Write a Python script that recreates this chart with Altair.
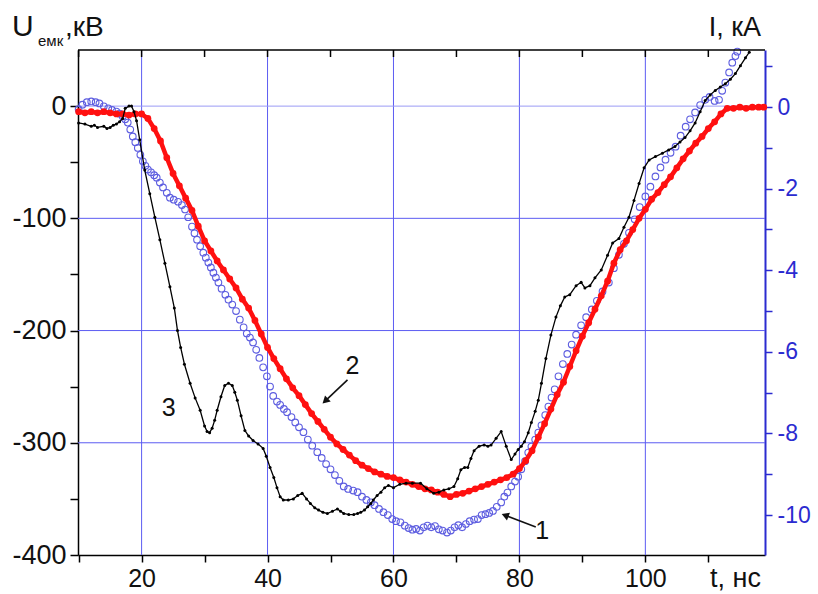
import altair as alt
import pandas as pd

# ---------------- data ----------------
# Curve 2 (red, U in kV)
red_t = [10, 11, 12, 13, 14, 15, 16, 17, 18, 19, 20, 21, 22, 23, 24, 25, 26, 27, 28, 29,
         30, 31, 32, 33, 34, 35, 36, 37, 38, 39, 40, 41, 42, 43, 44, 45, 46, 47, 48, 49,
         50, 51, 52, 53, 54, 55, 56, 57, 58, 59, 60, 61, 62, 63, 64, 65, 66, 67, 68, 69,
         70, 71, 72, 73, 74, 75, 76, 77, 78, 79, 80, 81, 82, 83, 84, 85, 86, 87, 88, 89,
         90, 91, 92, 93, 94, 95, 96, 97, 98, 99, 100, 101, 102, 103, 104, 105, 106, 107, 108, 109,
         110, 111, 112, 113, 114, 115, 116, 117, 118, 118.8]
red_u = [-5, -6, -5, -6, -5, -6, -7, -7, -8, -7, -7, -11, -20, -31, -46, -60, -71, -82, -93, -107,
         -120, -129, -138, -146, -154, -162, -172, -180, -191, -203, -215, -225, -234, -243, -251, -258, -266, -274, -281, -288,
         -295, -301, -306, -311, -316, -320, -323, -326, -328, -330, -331, -333, -335, -337, -339, -341, -342, -344, -346, -348,
         -346, -345, -343, -341, -339, -337, -335, -333, -331, -328, -323, -316, -307, -295, -283, -270, -257, -246, -232, -218,
         -205, -193, -181, -169, -156, -140, -128, -120, -110, -100, -92, -83, -77, -70, -63, -55, -47, -40, -33, -27,
         -20, -14, -7, -2, -2, -1, -2, -1, -1, -1]

# Curve 3 (black, kV)
black_t = [10, 11, 12, 12.5, 13, 14, 14.5, 15, 15.5, 16, 16.5, 17, 17.4, 18, 18.4, 18.8, 19.2, 19.7, 20.5, 21.3,
           22.1, 22.9, 23.7, 24.5, 25.2, 25.7, 26.2, 26.8, 27.7, 28.5, 29.3, 30, 30.4, 30.8, 31.2, 31.6, 32, 32.6, 33.2, 33.8,
           34.4, 34.8, 35.2, 35.8, 36.4, 37, 37.7, 38.5, 39.3, 39.8, 40.4, 41, 41.5, 42, 42.5, 43.3, 44.1, 44.8, 45.5, 46.2,
           46.8, 47.5, 48.1, 48.8, 49.5, 50.3, 51.1, 51.6, 52.1, 52.9, 53.7, 54.3, 54.8, 55.4, 55.9, 56.4, 56.8, 57.4, 58, 58.6,
           59.2, 60, 61, 62, 63, 64.3, 65.3, 66.4, 67.2, 68, 68.8, 69.6, 70.2, 70.7, 71.3, 71.8, 72.3, 72.8, 73.6, 74.4,
           75, 75.5, 76.3, 77.1, 77.9, 78.7, 79.3, 79.8, 80.3, 80.8, 81.4, 81.9, 82.5, 83, 83.5, 84.2, 85, 85.8, 86.5, 87.2,
           88, 89, 89.8, 90.4, 91.2, 92, 93, 94, 94.8, 95.8, 96.6, 97.4, 98.2, 99, 99.8, 100.6, 101.6, 102.7, 103.7, 104.7,
           105.5, 106.3, 107.1, 107.9, 108.7, 109.5, 110.3, 111.1, 111.9, 112.7, 113.5, 114.3, 115.1, 115.9, 116.5]
black_u = [-15, -16, -18, -17, -19, -18, -20, -19, -17, -16, -14, -11, -2, 0, 0, -5, -13, -30, -57, -78,
           -99, -119, -140, -161, -180, -200, -215, -230, -247, -260, -271, -285, -290, -291, -287, -280, -271, -259, -249, -247,
           -249, -255, -262, -276, -289, -294, -298, -301, -305, -312, -322, -331, -340, -348, -351, -351, -350, -347, -345, -350,
           -354, -358, -360, -362, -363, -361, -359, -361, -363, -364, -364, -363, -362, -360, -357, -354, -351, -347, -344, -340,
           -338, -340, -337, -336, -336, -336, -341, -345, -344, -342, -341, -339, -332, -324, -322, -322, -314, -307, -303, -302,
           -303, -302, -296, -290, -303, -315, -310, -306, -303, -299, -291, -282, -272, -262, -247, -225, -204, -188, -178, -170,
           -168, -160, -157, -162, -160, -153, -146, -133, -122, -118, -108, -99, -84, -69, -55, -48, -45, -42, -39, -36,
           -32, -28, -22, -15, -5, 5, 10, 14, 17, 20, 24, 29, 36, 43, 48]

# Curve 1 (blue circles, I in kA, right axis)
blue_t = [10, 10.6, 11.3, 12, 12.7, 13.3, 14, 14.7, 15.3, 16, 16.5, 17, 17.4, 17.8, 18.2, 18.6, 19, 19.4, 19.8, 20.2,
          20.6, 21, 21.5, 22, 22.4, 22.9, 23.4, 24, 24.5, 25.1, 25.8, 26.4, 26.9, 27.4, 28, 28.4, 28.8, 29.3, 29.8, 30.2,
          30.6, 31, 31.4, 31.8, 32.2, 32.7, 33.3, 33.8, 34.4, 35, 35.6, 36.2, 36.7, 37.2, 37.7, 38.2, 38.7, 39.3, 39.9, 40.4,
          40.9, 41.5, 42, 42.6, 43.1, 43.8, 44.4, 45, 45.7, 46.4, 47.1, 47.9, 48.6, 49.3, 50, 50.7, 51.4, 52.1, 52.8, 53.6,
          54.3, 55, 55.7, 56.4, 57, 57.7, 58.4, 59.1, 59.8, 60.4, 61.1, 61.8, 62.4, 63, 63.6, 64.2, 64.8, 65.4, 66, 66.6,
          67.2, 67.8, 68.5, 69.1, 69.7, 70.3, 70.9, 71.5, 72.1, 72.8, 73.4, 74, 74.6, 75.2, 75.8, 76.4, 77.1, 77.6, 78.1, 78.7,
          79.3, 79.8, 80.3, 80.9, 81.4, 81.9, 82.5, 83, 83.5, 84.1, 84.6, 85.1, 85.6, 86.2, 86.9, 87.6, 88.3, 89, 89.8, 90.6,
          91.5, 92.3, 93.2, 94.2, 95, 95.8, 96.6, 97.4, 98.3, 99.1, 100, 100.8, 101.6, 102.4, 103.2, 104, 104.8, 105.6, 106.4, 107.1,
          107.9, 108.7, 109.5, 110.2, 111, 111.7, 112.2, 112.7, 113.3, 113.8, 114.3, 114.6]
blue_i = [-0.05, 0.06, 0.12, 0.14, 0.12, 0.09, 0.02, -0.03, -0.07, -0.11, -0.16, -0.23, -0.30, -0.38, -0.55, -0.72, -0.86, -1.00, -1.17, -1.33,
          -1.44, -1.53, -1.60, -1.67, -1.73, -1.85, -1.97, -2.10, -2.22, -2.27, -2.32, -2.40, -2.51, -2.70, -2.93, -3.09, -3.25, -3.41, -3.57, -3.69,
          -3.81, -3.93, -4.06, -4.18, -4.30, -4.45, -4.60, -4.72, -4.84, -5.00, -5.21, -5.40, -5.55, -5.65, -5.77, -5.95, -6.15, -6.38, -6.60, -6.85,
          -7.08, -7.22, -7.30, -7.40, -7.48, -7.60, -7.73, -7.85, -7.97, -8.15, -8.30, -8.46, -8.60, -8.75, -8.88, -9.02, -9.16, -9.30, -9.36, -9.40,
          -9.44, -9.55, -9.63, -9.69, -9.76, -9.85, -9.93, -10.00, -10.10, -10.15, -10.18, -10.26, -10.32, -10.36, -10.34, -10.38, -10.30, -10.26, -10.30, -10.27,
          -10.35, -10.38, -10.43, -10.38, -10.30, -10.25, -10.30, -10.22, -10.15, -10.11, -10.10, -10.00, -9.98, -9.95, -9.90, -9.80, -9.69, -9.55, -9.45, -9.30,
          -9.18, -9.06, -8.88, -8.68, -8.47, -8.32, -8.15, -7.98, -7.80, -7.55, -7.34, -7.12, -6.92, -6.60, -6.30, -6.05, -5.82, -5.58, -5.35, -5.15,
          -4.96, -4.75, -4.52, -4.30, -3.95, -3.62, -3.35, -3.08, -2.75, -2.45, -2.19, -1.95, -1.70, -1.48, -1.29, -1.12, -0.97, -0.70, -0.48, -0.30,
          -0.13, 0.05, 0.18, 0.25, 0.15, 0.18, 0.40, 0.60, 0.85, 1.09, 1.25, 1.36]

# axes / grid
x_tick_values = [10, 20, 30, 40, 50, 60, 70, 80, 90, 100, 110]
x_grid = [20, 40, 60, 80, 100]
yl_tick_values = [-400, -350, -300, -250, -200, -150, -100, -50, 0]
yl_grid = [-100, -200, -300]
yl_zero = [0]
yr_tick_values = [-10, -9, -8, -7, -6, -5, -4, -3, -2, -1, 0, 1]

# curve labels and arrows (data coordinates, left axis)
lab_text = ["3", "2", "1"]
lab_t = [24.3, 53.5, 83.6]
lab_u = [-269, -232, -379]
arr_t1 = [52.7, 82.6]
arr_u1 = [-244, -375]
arr_t2 = [49.3, 77.9]
arr_u2 = [-262, -365]
arr_angle = [227, 291]

# ---------------- chart ----------------
W, H = 687, 505
FONT = "Liberation Sans"
BLUE_AX = "#2b2bd0"
GRID = "#5c5cf2"

xs = alt.Scale(domain=[9.9, 119], nice=False, zero=False)
yls = alt.Scale(domain=[-400, 50], nice=False, zero=False)
yrs = alt.Scale(domain=[-10.98, 1.40], nice=False, zero=False)

red_df = pd.DataFrame({"t": red_t, "v": red_u})
black_df = pd.DataFrame({"t": black_t, "v": black_u})
blue_df = pd.DataFrame({"t": blue_t, "v": blue_i})

x_axis = alt.Axis(values=x_tick_values, title=None,
                  labelExpr="datum.value % 20 == 0 ? '' + datum.value : ''",
                  labelFont=FONT, labelFontSize=25, labelColor="#111", labelPadding=4,
                  tickColor="black", tickSize=7, tickWidth=1.5, domainColor="black", domainWidth=1.5,
                  grid=False, labelFlush=False)
yl_axis = alt.Axis(orient="left", values=yl_tick_values, title=None,
                   labelExpr="datum.value % 100 == 0 ? '' + datum.value : ''",
                   labelFont=FONT, labelFontSize=27, labelColor="#111", labelPadding=4,
                   tickColor="black", tickSize=8, tickWidth=1.5, domainColor="black", domainWidth=1.5,
                   grid=False)

gx = alt.Chart(pd.DataFrame({"t": x_grid})).mark_rule(color=GRID, strokeWidth=1).encode(
    x=alt.X("t:Q", scale=xs, axis=x_axis))
gy = alt.Chart(pd.DataFrame({"v": yl_grid})).mark_rule(color=GRID, strokeWidth=1).encode(
    y=alt.Y("v:Q", scale=yls, axis=yl_axis))
gz = alt.Chart(pd.DataFrame({"v": yl_zero})).mark_rule(color="#9a9af5", strokeWidth=1).encode(
    y=alt.Y("v:Q", scale=yls))
grid_layer = alt.layer(gx, gy, gz)

blue_layer = alt.Chart(blue_df).mark_point(
    shape="circle", filled=False, size=44, strokeWidth=1.1, color="#5d5de0", opacity=1
).encode(
    x=alt.X("t:Q", scale=xs),
    y=alt.Y("v:Q", scale=yrs, axis=alt.Axis(
        orient="right", values=yr_tick_values, title=None,
        labelExpr="datum.value % 2 == 0 ? '' + datum.value : ''",
        labelFont=FONT, labelFontSize=23, labelColor=BLUE_AX, labelPadding=5,
        tickColor=BLUE_AX, tickSize=7, tickWidth=1.5, domainColor=BLUE_AX, domainWidth=2,
        grid=False)),
)

red_line = alt.Chart(red_df).mark_line(color="#ff1010", strokeWidth=4.5).encode(
    x=alt.X("t:Q", scale=xs),
    y=alt.Y("v:Q", scale=yls, axis=None))
red_pts = alt.Chart(red_df).mark_circle(color="#ff1010", size=46, opacity=1).encode(
    x=alt.X("t:Q", scale=xs), y=alt.Y("v:Q", scale=yls, axis=None))
black_line = alt.Chart(black_df).mark_line(color="black", strokeWidth=1.3).encode(
    x=alt.X("t:Q", scale=xs), y=alt.Y("v:Q", scale=yls, axis=None))
black_pts = alt.Chart(black_df).mark_circle(color="black", size=9, opacity=1).encode(
    x=alt.X("t:Q", scale=xs), y=alt.Y("v:Q", scale=yls, axis=None))

lab_df = pd.DataFrame({"txt": lab_text, "t": lab_t, "v": lab_u})
labels = alt.Chart(lab_df).mark_text(font=FONT, fontSize=25, color="#111").encode(
    x=alt.X("t:Q", scale=xs), y=alt.Y("v:Q", scale=yls, axis=None), text="txt:N")
arr_df = pd.DataFrame({"t1": arr_t1, "v1": arr_u1, "t2": arr_t2, "v2": arr_u2, "ang": arr_angle})
arr_lines = alt.Chart(arr_df).mark_rule(color="#111", strokeWidth=1.6).encode(
    x=alt.X("t1:Q", scale=xs), y=alt.Y("v1:Q", scale=yls, axis=None),
    x2="t2:Q", y2="v2:Q")
arr_heads = alt.Chart(arr_df).mark_point(shape="triangle", filled=True, size=70, color="#111", opacity=1).encode(
    x=alt.X("t2:Q", scale=xs), y=alt.Y("v2:Q", scale=yls, axis=None), angle=alt.Angle("ang:Q", scale=None))

one = pd.DataFrame({"a": [0]})
top_line = alt.Chart(one).mark_rule(color="black", strokeWidth=1.5).encode(
    x=alt.value(0), x2=alt.value(W), y=alt.value(0))
top_ticks = alt.Chart(pd.DataFrame({"t": x_tick_values})).mark_rule(color="black", strokeWidth=1.5).encode(
    x=alt.X("t:Q", scale=xs), y=alt.value(0), y2=alt.value(7))

t_u = alt.Chart(one).mark_text(text="U", font=FONT, fontSize=30, align="left", baseline="alphabetic", color="#111").encode(
    x=alt.value(-66), y=alt.value(-14))
t_sub = alt.Chart(one).mark_text(text="емк", font=FONT, fontSize=15, align="left", baseline="alphabetic", color="#111").encode(
    x=alt.value(-40), y=alt.value(-4))
t_kv = alt.Chart(one).mark_text(text=",кВ", font=FONT, fontSize=28, align="left", baseline="alphabetic", color="#111").encode(
    x=alt.value(-13), y=alt.value(-14))
t_i = alt.Chart(one).mark_text(text="I, кА", font=FONT, fontSize=27, align="right", baseline="alphabetic", color="#111").encode(
    x=alt.value(683), y=alt.value(-14))
t_t = alt.Chart(one).mark_text(text="t, нс", font=FONT, fontSize=27, align="right", baseline="alphabetic", color="#111").encode(
    x=alt.value(683), y=alt.value(H + 32))

main_layer = alt.layer(red_line, red_pts, black_line, black_pts, labels, arr_lines, arr_heads,
                       top_line, top_ticks, t_u, t_sub, t_kv, t_i, t_t)

chart = alt.layer(grid_layer, blue_layer, main_layer).resolve_scale(y="independent").properties(
    width=W, height=H,
    autosize=alt.AutoSizeParams(type="none"),
    padding={"left": 78, "top": 50, "right": 53, "bottom": 39},
    background="white",
).configure_view(stroke=None)

chart.save("out.html", embed_options={"renderer": "svg", "actions": False})
